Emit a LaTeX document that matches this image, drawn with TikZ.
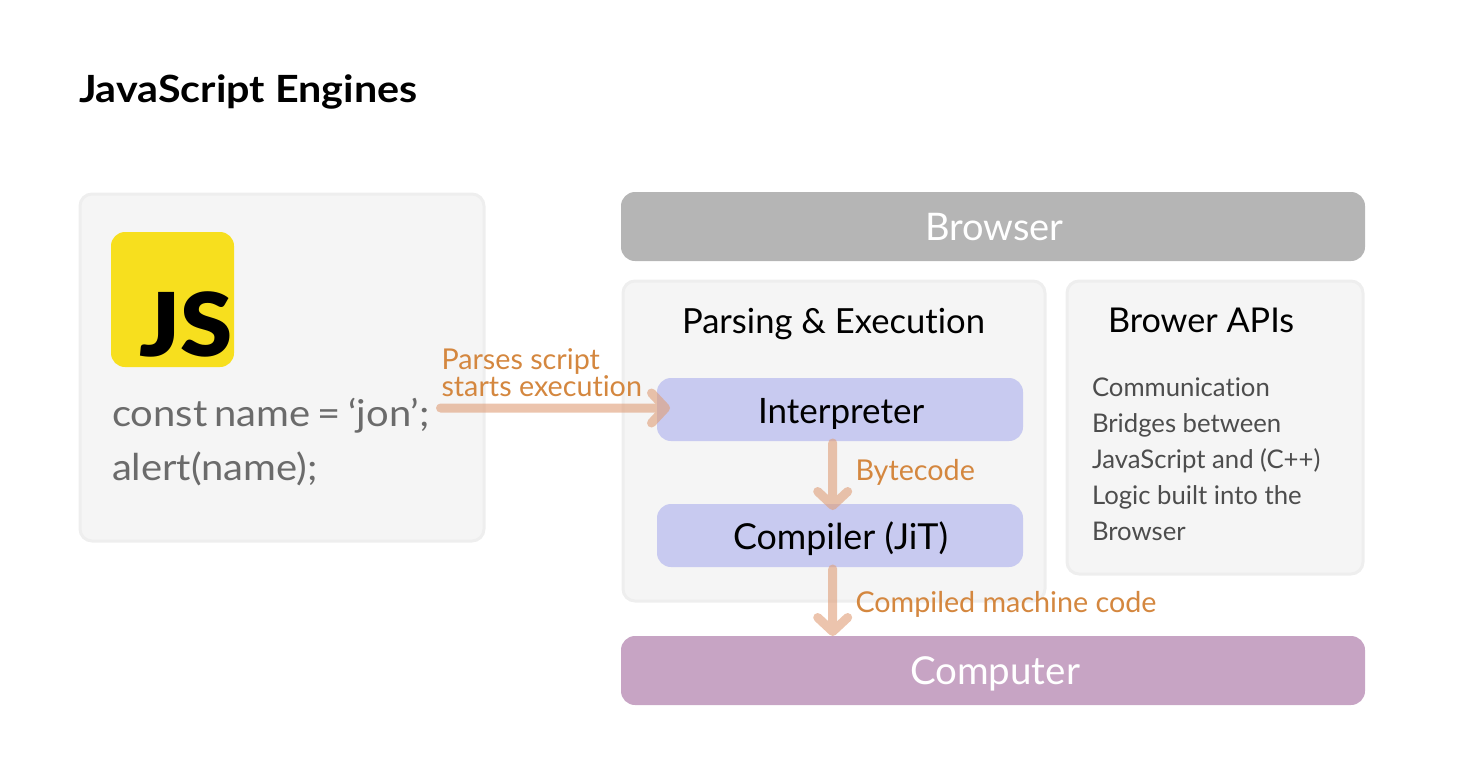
\documentclass[tikz,border=0pt]{standalone}
\usepackage{fontspec}
\usetikzlibrary{arrows.meta,calc}
\setmainfont[Ligatures=NoCommon]{Lato}
\newfontfamily\titlef[FakeStretch=1.1,Ligatures=NoCommon]{Lato Bold}
\newfontfamily\jsf[FakeStretch=1.07]{Lato Black}
\newfontfamily\codef[FakeStretch=1.08,Ligatures=NoCommon]{Lato}
\definecolor{panelf}{HTML}{F5F5F5}
\definecolor{paneld}{HTML}{EEEEEE}
\definecolor{browserc}{HTML}{B5B5B5}
\definecolor{computerc}{HTML}{C7A4C4}
\definecolor{blockc}{HTML}{C8CAF0}
\definecolor{jsy}{HTML}{F7DF1E}
\definecolor{orangec}{HTML}{D4873F}
\definecolor{arrowc}{HTML}{DF9D77}
\definecolor{codec}{HTML}{6B6B6B}
\definecolor{notec}{HTML}{4D4D4D}
\tikzset{
  x=1pt,y=-1pt,
  every node/.style={inner sep=0pt,outer sep=0pt},
  panel/.style={rectangle,fill=panelf,draw=paneld,line width=3pt,rounded corners=12pt},
  bar/.style={rectangle,rounded corners=14pt},
  block/.style={rectangle,fill=blockc,rounded corners=14pt,minimum width=366pt,minimum height=63pt},
  txt/.style={anchor=base west},
  lbl/.style={anchor=base west,text=orangec,font=\fontsize{28.7}{29}\selectfont},
  flow/.style={draw=arrowc,line width=9pt,line cap=round,-{Straight Barb[round,length=14pt,width=30pt]}},
}
\begin{document}
\begin{tikzpicture}
\useasboundingbox (0,0) rectangle (1458,777);
\node[txt,font=\titlef\fontsize{37.5}{38}\selectfont] (title) at (79,102) {JavaScript Engines};

\node[panel,minimum width=404pt,minimum height=347pt] (src) at (282,367.5) {};
\node[rectangle,fill=jsy,rounded corners=14pt,minimum width=123pt,minimum height=135pt] (logo) at (172.5,299.5) {};
\node[txt,font=\jsf\fontsize{88}{88}\selectfont] (jsmark) at (139,356) {JS};
\node[txt,text=codec,font=\codef\fontsize{37}{37}\selectfont] (code1) at (112,426) {const\hspace{-3pt} name\hspace{-3pt} =\hspace{-3pt} ‘jon’;};
\node[txt,text=codec,font=\codef\fontsize{37}{37}\selectfont] (code2) at (112,480) {alert(name);};

\node[bar,fill=browserc,minimum width=744pt,minimum height=69pt] (browser) at (993,226.5) {};
\node[txt,text=white,font=\fontsize{38}{38}\selectfont] (browsert) at (925,240) {Browser};

\node[panel,minimum width=422pt,minimum height=320pt] (parse) at (834,441) {};
\node[panel,minimum width=296pt,minimum height=293pt] (apis) at (1215,427.5) {};
\node[txt,font=\fontsize{34.6}{35}\selectfont] (parset) at (682,333) {Parsing \& Execution};
\node[txt,font=\fontsize{34.2}{35}\selectfont] (apist) at (1108,332) {Brower APIs};
\foreach \n/\y/\t in {n1/396/Communication,n2/432/Bridges between,n3/468/JavaScript and (C++),n4/504/Logic built into the,n5/540/Browser}
  \node[txt,text=notec,font=\fontsize{25.7}{26}\selectfont] (\n) at (1092,\y) {\t};

\node[block] (interp) at (840,409.5) {};
\node[txt,font=\fontsize{35}{35}\selectfont] (interpt) at (758,423) {Interpreter};
\node[block] (comp) at (840,535.5) {};
\node[txt,font=\fontsize{35.8}{36}\selectfont] (compt) at (733,549) {Compiler (JiT)};

\node[bar,fill=computerc,minimum width=744pt,minimum height=69pt] (computer) at (993,670.5) {};
\node[txt,text=white,font=\fontsize{38.5}{39}\selectfont] (computert) at (910,684) {Computer};

\coordinate (startA) at (440.5,408);
\coordinate (axis) at (832.7,0);
\begin{scope}[transparency group,opacity=.6]
\draw[flow] (startA) -- ([xshift=13pt]interp.west |- startA);
\end{scope}
\begin{scope}[transparency group,opacity=.6]
\draw[flow] ([yshift=-2pt]interp.south -| axis) -- ([yshift=-6pt]comp.north -| axis);
\end{scope}
\begin{scope}[transparency group,opacity=.6]
\draw[flow] ([yshift=-2pt]comp.south -| axis) -- (computer.north -| axis);
\end{scope}

\node[lbl] (l1) at (441.5,369) {Parses script};
\node[lbl] (l2) at (441.5,396) {starts execution};
\node[lbl] (l3) at (855.5,480) {Bytecode};
\node[lbl] (l4) at (855.5,612) {Compiled machine code};
\end{tikzpicture}
\end{document}
